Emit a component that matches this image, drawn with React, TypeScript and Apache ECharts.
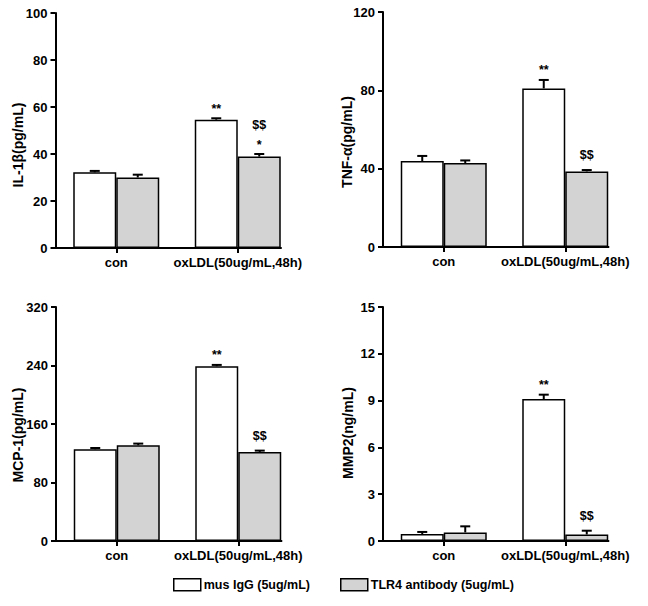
import React, { useEffect, useRef } from "react";
import * as echarts from "echarts";

const categories = ["con", "oxLDL(50ug/mL,48h)"];
const seriesNames = ["mus IgG (5ug/mL)", "TLR4 antibody (5ug/mL)"];

const il1bIgG = [32.2, 54.6];
const il1bIgGErr = [0.6, 0.6];
const il1bTLR4 = [30.0, 38.9];
const il1bTLR4Err = [1.2, 1.1];
const il1bIgGAnn = [[], ["**"]];
const il1bTLR4Ann = [[], ["*", "$$"]];

const tnfIgG = [43.9, 81.0];
const tnfIgGErr = [2.6, 4.3];
const tnfTLR4 = [42.9, 38.6];
const tnfTLR4Err = [1.3, 0.7];
const tnfIgGAnn = [[], ["**"]];
const tnfTLR4Ann = [[], ["$$"]];

const mcpIgG = [125.4, 239.0];
const mcpIgGErr = [1.8, 1.8];
const mcpTLR4 = [130.9, 121.8];
const mcpTLR4Err = [2.3, 1.8];
const mcpIgGAnn = [[], ["**"]];
const mcpTLR4Ann = [[], ["$$"]];

const mmpIgG = [0.45, 9.1];
const mmpIgGErr = [0.13, 0.28];
const mmpTLR4 = [0.55, 0.42];
const mmpTLR4Err = [0.39, 0.24];
const mmpIgGAnn = [[], ["**"]];
const mmpTLR4Ann = [[], ["$$"]];

const titles = ["IL-1β(pg/mL)", "TNF-α(pg/mL)", "MCP-1(pg/mL)", "MMP2(ng/mL)"];
const yMax = [100, 120, 320, 15];
const yInterval = [20, 40, 80, 3];

const FONT = "'Liberation Sans', Arial, sans-serif";
const BAR_W = 43;
const CAT_W = 121.5;

const layouts = [
  { left: 55.5, top: 13, height: 235, tx: 18, ty: 145 },
  { left: 383, top: 12, height: 235, tx: 347, ty: 142 },
  { left: 56, top: 307, height: 234, tx: 18, ty: 435 },
  { left: 383, top: 307, height: 234, tx: 348, ty: 433 },
];

const panels = [
  { igg: il1bIgG, iggErr: il1bIgGErr, iggAnn: il1bIgGAnn, tlr: il1bTLR4, tlrErr: il1bTLR4Err, tlrAnn: il1bTLR4Ann },
  { igg: tnfIgG, iggErr: tnfIgGErr, iggAnn: tnfIgGAnn, tlr: tnfTLR4, tlrErr: tnfTLR4Err, tlrAnn: tnfTLR4Ann },
  { igg: mcpIgG, iggErr: mcpIgGErr, iggAnn: mcpIgGAnn, tlr: mcpTLR4, tlrErr: mcpTLR4Err, tlrAnn: mcpTLR4Ann },
  { igg: mmpIgG, iggErr: mmpIgGErr, iggAnn: mmpIgGAnn, tlr: mmpTLR4, tlrErr: mmpTLR4Err, tlrAnn: mmpTLR4Ann },
];

function errorSeries(p: number, vals: number[], errs: number[], anns: string[][], offset: number) {
  return {
    type: "custom",
    xAxisIndex: p,
    yAxisIndex: p,
    z: 5,
    encode: { x: 0, y: 1 },
    data: vals.map((v, i) => [i, v, errs[i]]),
    renderItem: (params: any, api: any) => {
      const i = api.value(0);
      const v = api.value(1);
      const e = api.value(2);
      const base = api.coord([i, v]);
      const top = api.coord([i, v + e]);
      const x = base[0] + offset;
      const children: any[] = [
        { type: "line", shape: { x1: x, y1: base[1], x2: x, y2: top[1] }, style: { stroke: "#000", lineWidth: 2 } },
        { type: "line", shape: { x1: x - 5, y1: top[1], x2: x + 5, y2: top[1] }, style: { stroke: "#000", lineWidth: 2 } },
      ];
      let c = top[1];
      const lines = anns[params.dataIndex] || [];
      lines.forEach((t) => {
        const isStar = t.indexOf("*") >= 0;
        const y = isStar ? c - 9.5 : c - 15;
        children.push({
          type: "text",
          style: {
            text: t,
            x,
            y,
            fill: "#000",
            fontSize: 12.5,
            fontWeight: "bold",
            fontFamily: FONT,
            align: "center",
            verticalAlign: "middle",
          },
        });
        c -= isStar ? 14 : 22;
      });
      return { type: "group", children };
    },
  };
}

export default function App() {
  const ref = useRef<HTMLDivElement>(null);
  useEffect(() => {
    if (!ref.current) return;
    const chart = echarts.init(ref.current, undefined, { renderer: "svg" });
    const grid = layouts.map((l) => ({ left: l.left, top: l.top, width: CAT_W * 2, height: l.height, containLabel: false }));
    const xAxis = layouts.map((l, p) => ({
      type: "category",
      gridIndex: p,
      data: categories,
      axisLine: { show: false },
      axisTick: { show: true, alignWithLabel: true, length: 5, lineStyle: { color: "#000", width: 2 } },
      axisLabel: { color: "#000", fontWeight: "bold", fontSize: 13, fontFamily: FONT, margin: 8, interval: 0 },
    }));
    const yAxis = layouts.map((l, p) => ({
      type: "value",
      gridIndex: p,
      min: 0,
      max: yMax[p],
      interval: yInterval[p],
      splitLine: { show: false },
      axisLine: { show: true, lineStyle: { color: "#000", width: 2 } },
      axisTick: { show: true, length: 5, lineStyle: { color: "#000", width: 2 } },
      axisLabel: { color: "#000", fontWeight: "bold", fontSize: 13, fontFamily: FONT, margin: 8 },
    }));
    const series: any[] = [];
    panels.forEach((pn, p) => {
      series.push({
        type: "bar",
        name: seriesNames[0],
        xAxisIndex: p,
        yAxisIndex: p,
        data: pn.igg,
        barWidth: BAR_W,
        barGap: "0%",
        itemStyle: { color: "#ffffff", borderColor: "#000", borderWidth: 1.5 },
      });
      series.push({
        type: "bar",
        name: seriesNames[1],
        xAxisIndex: p,
        yAxisIndex: p,
        data: pn.tlr,
        barWidth: BAR_W,
        barGap: "0%",
        itemStyle: { color: "#d3d3d3", borderColor: "#000", borderWidth: 1.5 },
      });
      series.push(errorSeries(p, pn.igg, pn.iggErr, pn.iggAnn, -BAR_W / 2));
      series.push(errorSeries(p, pn.tlr, pn.tlrErr, pn.tlrAnn, BAR_W / 2));
    });
    const graphic: any[] = [];
    layouts.forEach((l, p) => {
      const y0 = l.top + l.height;
      graphic.push({
        type: "line",
        shape: { x1: l.left - 1, y1: y0, x2: l.left + 1.5 * CAT_W + BAR_W + 1, y2: y0 },
        style: { stroke: "#000", lineWidth: 2 },
        z: 10,
      });
      graphic.push({
        type: "text",
        x: l.tx,
        y: l.ty,
        rotation: Math.PI / 2,
        style: {
          text: titles[p],
          fill: "#000",
          fontSize: 14,
          fontWeight: "bold",
          fontFamily: FONT,
          align: "center",
          verticalAlign: "middle",
        },
      });
    });
    chart.setOption({
      animation: false,
      backgroundColor: "#ffffff",
      grid,
      xAxis,
      yAxis,
      series,
      graphic,
      legend: {
        data: seriesNames,
        left: 173,
        top: 578,
        padding: 0,
        itemWidth: 27,
        itemHeight: 12,
        itemGap: 30,
        icon: "rect",
        selectedMode: false,
        itemStyle: { borderColor: "#000", borderWidth: 1.5 },
        textStyle: { color: "#000", fontWeight: "bold", fontSize: 12.5, fontFamily: FONT, padding: [0, 0, 0, -2] },
      },
    });
    return () => chart.dispose();
  }, []);
  return (
    <div
      ref={ref}
      style={{ position: "fixed", left: 0, top: 0, width: 648, height: 606, background: "#fff" }}
    />
  );
}
